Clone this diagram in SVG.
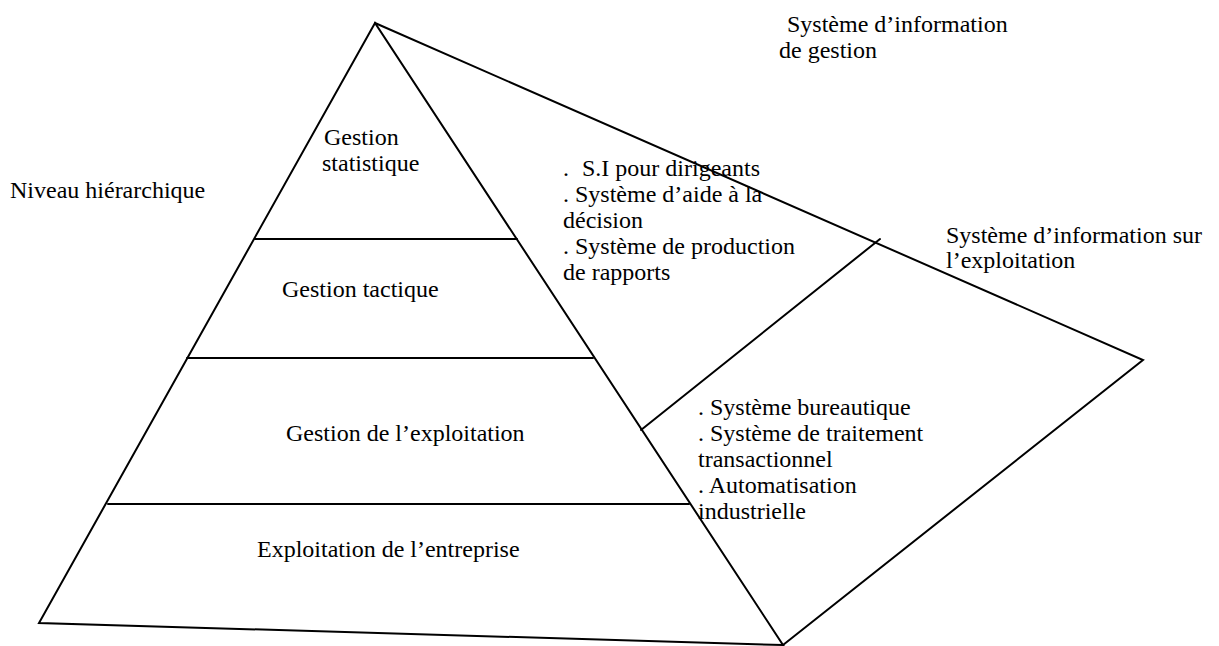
<svg xmlns="http://www.w3.org/2000/svg" width="1219" height="646" viewBox="0 0 1219 646">
<style>
text{font-family:'Liberation Serif','Times New Roman',Times,'DejaVu Serif',serif;font-size:24px;fill:#000}
.l{stroke:#000;stroke-width:2;fill:none;stroke-linecap:round;stroke-linejoin:miter}
</style>
<rect width="1219" height="646" fill="#fff"/>
<g id="connectors">
<path class="l" d="M375,23 L39,623 L783,645 Z"/>
<path class="l" d="M375,23 L1143,360 L783,645"/>
<line class="l" x1="255" y1="239" x2="517" y2="239"/>
<line class="l" x1="187" y1="358" x2="593" y2="358"/>
<line class="l" x1="108" y1="504" x2="689" y2="504"/>
<line class="l" x1="641" y1="430" x2="880" y2="239"/>
</g>
<g id="node-gestion-statistique">
<text x="324" y="145">Gestion</text>
<text x="322" y="171">statistique</text>
</g>
<g id="node-gestion-tactique">
<text x="282" y="297">Gestion tactique</text>
</g>
<g id="node-gestion-exploitation">
<text x="286" y="441">Gestion de l’exploitation</text>
</g>
<g id="node-exploitation-entreprise">
<text x="257" y="557">Exploitation de l’entreprise</text>
</g>
<g id="node-niveau">
<text x="10" y="198">Niveau hiérarchique</text>
</g>
<g id="node-si-gestion">
<text x="787" y="32">Système d’information</text>
<text x="779" y="58">de gestion</text>
</g>
<g id="node-si-exploitation">
<text x="946" y="243">Système d’information sur</text>
<text x="946" y="268">l’exploitation</text>
</g>
<g id="node-liste-gestion">
<text x="563" y="176">.</text>
<text x="582" y="176">S.I pour dirigeants</text>
<text x="563" y="202">. Système d’aide à la</text>
<text x="563" y="228">décision</text>
<text x="563" y="254">. Système de production</text>
<text x="563" y="280">de rapports</text>
</g>
<g id="node-liste-exploitation">
<text x="698" y="415">. Système bureautique</text>
<text x="698" y="441">. Système de traitement</text>
<text x="698" y="467">transactionnel</text>
<text x="698" y="493">. Automatisation</text>
<text x="698" y="519">industrielle</text>
</g>
</svg>
